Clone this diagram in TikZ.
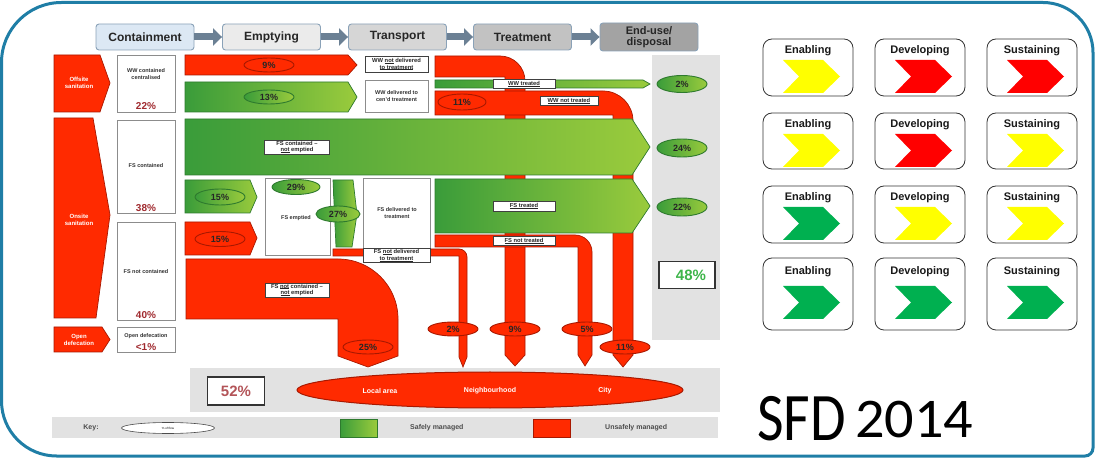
\documentclass[tikz,border=0pt]{standalone}
\usepackage{fontspec}
\usepackage{graphicx}
\setmainfont{Liberation Sans}
\newfontfamily\calibrifont{Carlito}
\usetikzlibrary{shapes.geometric,arrows.meta}
\newcommand\fsz[2]{\fontsize{#1}{#2}\selectfont}
% thin underline sized for small labels
\newlength\undlw
\newcommand\undl[1]{\settowidth\undlw{#1}\rlap{\rule[-0.8pt]{\undlw}{0.4pt}}#1}

\definecolor{sfdred}{HTML}{FF2A00}
\definecolor{sfdredline}{HTML}{A81800}
\definecolor{gdark}{HTML}{3A9C3A}
\definecolor{glight}{HTML}{9ACB3C}
\definecolor{gline}{HTML}{2E7A2E}
\definecolor{panel}{HTML}{E2E2E2}
\definecolor{framecol}{HTML}{1F7EA6}
\definecolor{hdrarrow}{HTML}{6B8094}
\definecolor{hdrline}{HTML}{8AA2B8}
\definecolor{hdrblue}{HTML}{DCE8F4}
\definecolor{pctred}{HTML}{A0292E}
\definecolor{pctgreen}{HTML}{3DB54A}
\definecolor{chred}{HTML}{FF0000}
\definecolor{chyellow}{HTML}{FFFF00}
\definecolor{chgreen}{HTML}{00B050}

\begin{document}
\begin{tikzpicture}[x=1pt,y=-1pt,
  hdr/.style={draw=hdrline, line width=0.9pt, rounded corners=3pt, minimum height=26pt,
    minimum width=98pt, inner sep=0pt, font=\fsz{12}{12}\bfseries, text=black!85, align=center},
  harrow/.style={line width=7pt, draw=hdrarrow, -{Triangle[length=9pt,width=17pt]}},
  redshape/.style={fill=sfdred, draw=sfdredline, line width=0.7pt},
  greenshape/.style={left color=gdark, right color=glight, draw=gline, line width=0.7pt},
  wlbl/.style={font=\fsz{6}{7}\bfseries, text=white, align=center, inner sep=0pt},
  colbox/.style={draw=black!45, fill=white, line width=0.8pt},
  boxtxt/.style={font=\fsz{5.5}{7}\bfseries, text=black!80, align=center, inner sep=0pt},
  pcttxt/.style={font=\fsz{10}{10}\bfseries, text=pctred, inner sep=0pt},
  arrlbl/.style={draw=black!75, fill=white, line width=0.5pt, inner xsep=2pt, inner ysep=0.8pt,
    font=\fsz{5.8}{6.8}\bfseries, align=center, text=black!85},
  slimlbl/.style={arrlbl, inner ysep=0pt, minimum height=8.5pt},
  pctR/.style={ellipse, draw=sfdredline, line width=0.9pt, fill=sfdred, minimum width=50pt,
    minimum height=14pt, inner sep=0pt, font=\fsz{9}{9}\bfseries, text=black!85},
  pctG/.style={ellipse, draw=gline, line width=0.9pt, left color=gdark, right color=glight,
    minimum width=50pt, minimum height=16pt, inner sep=0pt, font=\fsz{9}{9}\bfseries, text=black!85},
  cbox/.style={draw=black!80, line width=0.8pt, rounded corners=9pt, fill=white},
  ctitle/.style={font=\fsz{11}{11}\bfseries, text=black!90, inner sep=0pt},
  keytxt/.style={font=\fsz{7}{7}\bfseries, text=black!70, inner sep=0pt}
]
\useasboundingbox (0,0) rectangle (1101,462);

% outer frame
\draw[framecol, line width=3pt]
  (61.5,2.5) -- (1043,2.5) arc[start angle=-90, end angle=0, radius=50]
  -- (1093,448) arc[start angle=0, end angle=90, radius=8]
  -- (56.5,456) arc[start angle=90, end angle=180, radius=55]
  -- (1.5,62.5) arc[start angle=180, end angle=270, radius=60] -- cycle;

% grey panels
\fill[panel] (652,55) rectangle (720,340);
\fill[panel] (190,368) rectangle (720,412);
\fill[panel] (52,417) rectangle (718,438);

% service chain header
\node[hdr, fill=hdrblue] (hC) at (145,37) {Containment};
\node[hdr, fill=black!8] (hE) at (271.5,37) {Emptying};
\node[hdr, fill=black!16] (hT) at (397.5,37) {Transport};
\node[hdr, fill=black!24] (hR) at (522.5,37) {Treatment};
\node[hdr, fill=black!36, minimum height=28pt, font=\fsz{11}{11}\bfseries] (hD) at (649,37) {End-use/\\disposal};
\draw[harrow] (hC.east) -- (hE.west);
\draw[harrow] (hE.east) -- (hT.west);
\draw[harrow] (hT.east) -- (hR.west);
\draw[harrow] (hR.east) -- (hD.west);

% sanitation types
\path[redshape] (54,55) -- (100,55) -- (110,83) -- (100,112) -- (54,112) -- cycle;
\node[wlbl] (offsite) at (79,83) {Offsite\\sanitation};
\path[redshape] (54,118) -- (93,118) -- (110,215) -- (96,318) -- (54,318) -- cycle;
\node[wlbl] (onsite) at (79,220) {Onsite\\sanitation};
\path[redshape] (54,327) -- (102,327) -- (110,339.5) -- (102,352) -- (54,352) -- cycle;
\node[wlbl] (opendef) at (79,339.5) {Open\\defecation};

% containment column
\draw[colbox] (117,55) rectangle (175,112);
\node[boxtxt] (wwc) at (146,74) {WW contained\\centralised};
\node[pcttxt] (p22) at (146,106) {22\%};
\draw[colbox] (117,120) rectangle (175,213);
\node[boxtxt] (fsc) at (146,166) {FS contained};
\node[pcttxt] (p38) at (146,208) {38\%};
\draw[colbox] (117,222) rectangle (175,320);
\node[boxtxt] (fsnc) at (146,272) {FS not contained};
\node[pcttxt] (p40) at (146,315) {40\%};
\draw[colbox] (117,327) rectangle (175,352);
\node[boxtxt] (odt) at (146,336) {Open defecation};
\node[pcttxt] (p1) at (146,347) {<1\%};

% red flows running down to the destinations
\path[redshape] (435,56) -- (500,56) arc[start angle=-90, end angle=0, radius=25]
  -- (525,355) -- (515,366) -- (505,355) -- (505,77) -- (435,77) -- cycle;
\path[redshape] (435,91) -- (603,91) arc[start angle=-90, end angle=0, radius=30]
  -- (633,355) -- (623,367) -- (613,355) -- (613,115) -- (435,115) -- cycle;
\path[redshape] (333,249) -- (459,249) arc[start angle=-90, end angle=0, radius=8]
  -- (467,357) -- (463,367) -- (459,357) -- (459,256) -- (333,256) -- cycle;
\path[redshape] (186,259) -- (338,259) arc[start angle=-90, end angle=0, radius=60]
  -- (398,356) -- (368,367) -- (338,356) -- (338,319) -- (186,319) -- cycle;

% emptying flows
\path[redshape] (185,55) -- (348,55) -- (357,65) -- (348,75) -- (185,75) -- cycle;
\path[greenshape] (185,82) -- (348,82) -- (357,97) -- (348,112) -- (185,112) -- cycle;
\path[greenshape] (185,119) -- (632,119) -- (650,147) -- (632,175) -- (185,175) -- cycle;
\path[greenshape] (185,180) -- (250,180) -- (257,197) -- (250,213) -- (185,213) -- cycle;
\path[redshape] (185,222) -- (250,222) -- (257,238) -- (250,255) -- (185,255) -- cycle;

% emptied sludge and transport
\draw[colbox] (265,178) rectangle (330,255);
\node[boxtxt] (fse) at (296,218) {FS emptied};
\path[greenshape] (333,180) -- (353,180) -- (357,214) -- (352,247) -- (336,247) -- cycle;
\draw[colbox] (363,178) rectangle (430,248);
\node[boxtxt] (fsd) at (397,213) {FS delivered to\\treatment};
\node[arrlbl, minimum width=67pt, minimum height=14pt, inner ysep=0pt] (fsnd) at (396.5,255) {FS \undl{not}\ delivered\\\undl{to treatment}};
\node[arrlbl, minimum width=63pt, minimum height=16pt, inner ysep=0pt] (wwnd) at (396.5,64) {WW \undl{not}\ delivered\\\undl{to treatment}};
\draw[colbox] (365,80) rectangle (428,112);
\node[boxtxt] (wwd) at (396.5,96) {WW delivered to\\cen'd treatment};

% treatment flows
\path[greenshape] (435,80) -- (643,80) -- (650,84) -- (643,88) -- (435,88) -- cycle;
\path[redshape] (435,235) -- (575,235) arc[start angle=-90, end angle=0, radius=17]
  -- (592,355) -- (585,366) -- (578,355) -- (578,247) -- (435,247) -- cycle;
\path[greenshape] (435,179) -- (632,179) -- (650,206) -- (632,233) -- (435,233) -- cycle;

% flow labels
\node[arrlbl, minimum width=65pt] (fscne) at (297,147) {FS contained –\\\undl{not}\ emptied};
\node[slimlbl, minimum width=62pt] (wwt) at (524,84) {\undl{WW treated}};
\node[slimlbl, minimum width=58pt] (wwnt) at (569,101) {\undl{WW not treated}};
\node[slimlbl, minimum width=62pt, minimum height=10pt] (fst) at (524,206) {\undl{FS treated}};
\node[slimlbl, minimum width=62pt] (fsnt) at (524,241) {\undl{FS not treated}};
\node[arrlbl, minimum width=64pt] (fsncne) at (297,290) {FS \undl{not}\ contained –\\\undl{not}\ emptied};

% percentages
\node[pctR] (e9a) at (269,65) {9\%};
\node[pctG, minimum height=14pt] (e13) at (269,97) {13\%};
\node[pctG] (e15g) at (220,197) {15\%};
\node[pctR, minimum height=15pt] (e15r) at (220,239) {15\%};
\node[pctG, minimum width=48pt, minimum height=15pt] (e29) at (296,187) {29\%};
\node[pctG, minimum width=44pt] (e27) at (338,214) {27\%};
\node[pctR, minimum width=48pt, minimum height=16pt] (e11a) at (462,102) {11\%};
\node[pctG, minimum height=17pt] (e2g) at (682,84) {2\%};
\node[pctG, minimum height=18pt] (e24) at (682,148) {24\%};
\node[pctG, minimum height=18pt] (e22) at (682,207) {22\%};
\node[pctR] (e2r) at (453,329) {2\%};
\node[pctR] (e9b) at (515,329) {9\%};
\node[pctR] (e5) at (587,329) {5\%};
\node[pctR] (e11b) at (625,347) {11\%};
\node[pctR] (e25) at (368,347) {25\%};

% totals
\node[draw=black!80, line width=1.5pt, fill=white, minimum width=56pt, minimum height=27pt,
  font=\fsz{15}{15}\bfseries, text=pctgreen] (t48) at (687,275) {\hspace*{8pt}48\%};
\node[draw=black!80, line width=1.5pt, fill=white, minimum width=57pt, minimum height=28pt,
  font=\fsz{15}{15}\bfseries, text=pctred!80] (t52) at (236,391) {52\%};
\node[ellipse, fill=sfdred, draw=sfdredline, line width=1pt, minimum width=386pt,
  minimum height=36pt] (dest) at (490,390) {};
\node[wlbl, font=\fsz{7}{7}\bfseries] (local) at (380,391) {Local area};
\node[wlbl, font=\fsz{7}{7}\bfseries] (neigh) at (490,391) {Neighbourhood};
\node[wlbl, font=\fsz{7}{7}\bfseries] (city) at (605,391) {City};

% key
\node[keytxt] (key) at (91,428) {Key:};
\node[ellipse, draw=black!70, fill=white, line width=0.6pt, minimum width=93pt, minimum height=11pt,
  inner sep=0pt, font=\fsz{3}{3}] (keyell) at (168,428) {\% of flow};
\draw[greenshape] (340,419) rectangle (377,437);
\node[keytxt, anchor=west] (safe) at (410,428) {Safely managed};
\draw[redshape] (533,419) rectangle (570,437);
\node[keytxt, anchor=west] (unsafe) at (605,428) {Unsafely managed};

% enabling environment ratings
\foreach \row/\top/\h/\ct/\ly/\ca/\cb/\cc in {
    1/39/57/21/12/chyellow/chred/chred,
    2/113/56/21/12/chyellow/chred/chyellow,
    3/186/57/21/12/chgreen/chyellow/chyellow,
    4/258/72/28/14/chgreen/chgreen/chgreen} {
  \foreach \col/\lx/\lab/\colr in {1/763/Enabling/\ca, 2/875/Developing/\cb, 3/987/Sustaining/\cc} {
    \draw[cbox] (\lx,\top) rectangle ++(90,\h);
    \node[ctitle] (lab-\row-\col) at (\lx+45,\top+\ly) {\lab};
    \fill[fill=\colr] (\lx+20,\top+\ct) -- (\lx+60,\top+\ct) -- (\lx+77,\top+\ct+16.5)
      -- (\lx+60,\top+\ct+33) -- (\lx+20,\top+\ct+33) -- (\lx+36,\top+\ct+16.5) -- cycle;
  }
}

% title
\node[anchor=base west, inner sep=0pt, font=\calibrifont\fsz{68}{68}] (sfd) at (757,440) {\scalebox{0.85}[1]{SFD}};
\node[anchor=base west, inner sep=0pt, font=\calibrifont\fsz{56}{56}] (yr) at (855,437) {\scalebox{1.04}[1]{2014}};
\end{tikzpicture}
\end{document}
